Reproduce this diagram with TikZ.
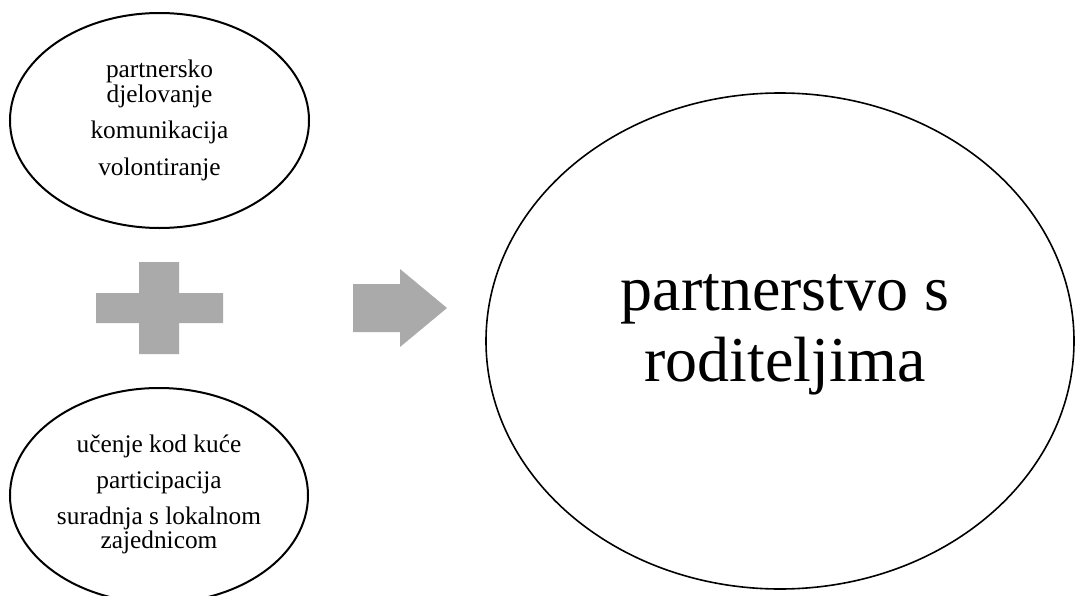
\documentclass[tikz,border=0pt]{standalone}
\usepackage{fontspec}
\setmainfont{Liberation Serif}
\usetikzlibrary{shapes.geometric}
\definecolor{shapegray}{RGB}{170,170,170}
\begin{document}
\begin{tikzpicture}[x=0.75pt,y=-0.75pt,
  ell/.style={draw=black, line width=1.5pt, ellipse, inner sep=0pt},
  smalltext/.style={align=center, font=\fontsize{19}{18.75}\selectfont, inner sep=0pt},
  bigtext/.style={align=center, font=\fontsize{48}{53}\selectfont, inner sep=0pt},
  shapefill/.style={fill=shapegray, draw=none}]
\useasboundingbox (0,0) rectangle (1075,596);
% ellipses
\node[ell, minimum width=224.25pt, minimum height=161.25pt] (top) at (159.5,120.5) {};
\node[ell, minimum width=223.5pt, minimum height=161.25pt] (bottom) at (159,495.5) {};
\node[ell, line width=1.2pt, minimum width=441pt, minimum height=372pt] (goal) at (780,341) {};
% texts
\node[smalltext] (toptext) at (159.5,120) {partnersko\\djelovanje\\[8.25pt]komunikacija\\[9pt]volontiranje};
\node[smalltext] (bottomtext) at (159,494.5) {učenje kod kuće\\[8.25pt]participacija\\[8.25pt]suradnja s lokalnom\\[-0.75pt]zajednicom};
\node[bigtext] (goaltext) at (785,335) {partnerstvo s\\roditeljima};
% plus sign
\fill[shapefill] (139,262) -- (179,262) -- (179,293) -- (223,293) -- (223,323) -- (179,323)
  -- (179,354) -- (139,354) -- (139,323) -- (96,323) -- (96,293) -- (139,293) -- cycle;
% block arrow
\fill[shapefill] (353,284) -- (400,284) -- (400,269) -- (447,308) -- (400,347) -- (400,332)
  -- (353,332) -- cycle;
\end{tikzpicture}
\end{document}
